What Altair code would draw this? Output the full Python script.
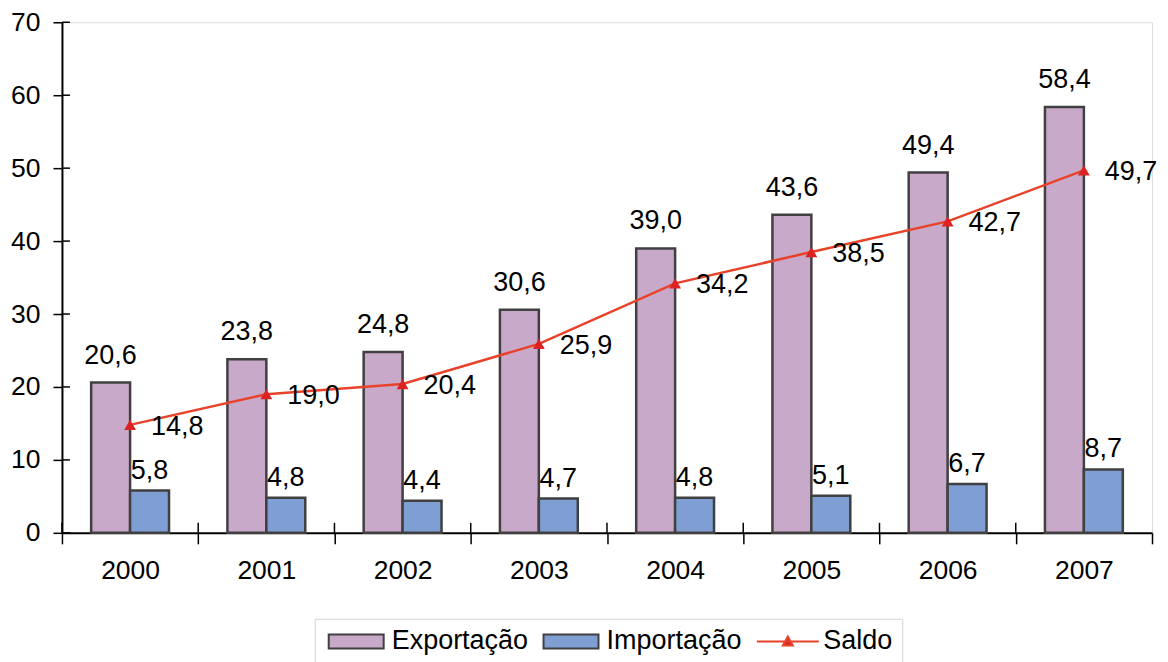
import altair as alt
import pandas as pd

years = ["2000", "2001", "2002", "2003", "2004", "2005", "2006", "2007"]
exportacao = [20.6, 23.8, 24.8, 30.6, 39.0, 43.6, 49.4, 58.4]
importacao = [5.8, 4.8, 4.4, 4.7, 4.8, 5.1, 6.7, 8.7]
saldo = [14.8, 19.0, 20.4, 25.9, 34.2, 38.5, 42.7, 49.7]
series_names = ["Exportação", "Importação", "Saldo"]
y_ticks = [0, 10, 20, 30, 40, 50, 60, 70]


def fmt(v):
    return f"{v:.1f}".replace(".", ",")


bars_df = pd.DataFrame({
    "year": years * 2,
    "series": [series_names[0]] * len(years) + [series_names[1]] * len(years),
    "value": exportacao + importacao,
})
bars_df["label"] = bars_df["value"].map(fmt)
line_df = pd.DataFrame({"year": years, "value": saldo, "label": [fmt(v) for v in saldo]})
ticks_df = pd.DataFrame({"v": y_ticks})
years_df = pd.DataFrame({"year": years})

W, H = 1091, 511
FONT = "Liberation Sans"
PINK = "#C9A9C9"
BLUE = "#7F9FD4"
RED = "#E8432A"
TRI = "#DD2222"
EDGE = "#404040"

RECT_PATH = "M-2.5,-0.64H2.5V0.64H-2.5Z"
LINE_PATH = "M-2.82,0H2.82M-0.45,0.36L0,-0.45L0.45,0.36Z"

x_scale = alt.Scale(domain=years, paddingInner=0, paddingOuter=0)
y_scale = alt.Scale(domain=[0, 70], nice=False)

x_axis = alt.Axis(title=None, tickBand="extent", labelAngle=0, domainColor="black",
                  domainWidth=2, tickColor="black", tickWidth=1.5, tickSize=11,
                  labelFont=FONT, labelFontSize=26.5, labelColor="black", labelPadding=14)
y_axis = alt.Axis(title=None, values=y_ticks, domainColor="black", domainWidth=2,
                  tickColor="black", tickWidth=1.5, tickSize=9, grid=False,
                  labelFont=FONT, labelFontSize=26.5, labelColor="black", labelPadding=13,
                  format="d")

x_enc = alt.X("year:N", scale=x_scale, axis=x_axis)
y_enc = alt.Y("value:Q", scale=y_scale, axis=y_axis)
xoff_enc = alt.XOffset("series:N", scale=alt.Scale(domain=series_names[:2], paddingInner=0, paddingOuter=0.75))

legend = alt.Legend(
    title=None, orient="none", legendX=253, legendY=597, direction="horizontal",
    symbolSize=484, symbolStrokeWidth=2, symbolOffset=19,
    labelFont=FONT, labelFontSize=27, labelColor="black",
    labelOffset=22, columnPadding=10, padding=9, strokeColor="#d4d4d4",
    symbolType={"expr": f"datum.value === 'Saldo' ? '{LINE_PATH}' : '{RECT_PATH}'"},
    symbolStrokeColor={"expr": f"datum.value === 'Saldo' ? '{RED}' : '{EDGE}'"},
)

bars = alt.Chart(bars_df).mark_bar(stroke=EDGE, strokeWidth=2.5).encode(
    x=x_enc, y=y_enc, xOffset=xoff_enc,
    color=alt.Color("series:N", scale=alt.Scale(domain=series_names, range=[PINK, BLUE, TRI]), legend=legend),
)

exp_text = alt.Chart(bars_df).transform_filter(alt.datum.series == series_names[0]).mark_text(
    baseline="alphabetic", dy=-19, font=FONT, fontSize=27, color="black"
).encode(x=x_enc, y=y_enc, xOffset=xoff_enc, text="label:N")

imp_text = alt.Chart(bars_df).transform_filter(alt.datum.series == series_names[1]).mark_text(
    baseline="alphabetic", dy=-12, font=FONT, fontSize=27, color="black"
).encode(x=x_enc, y=y_enc, xOffset=xoff_enc, text="label:N")

line = alt.Chart(line_df).mark_line(color=RED, strokeWidth=2.5).encode(x=x_enc, y=y_enc)
pts = alt.Chart(line_df).mark_point(shape="triangle-up", filled=True, color=TRI, size=140, opacity=1).encode(
    x=x_enc, y=y_enc)
line_text = alt.Chart(line_df).mark_text(
    align="left", baseline="middle", dx=21, dy=2, font=FONT, fontSize=27, color="black"
).encode(x=x_enc, y=y_enc, text="label:N")

inner_y_ticks = alt.Chart(ticks_df).mark_rule(color="black", strokeWidth=1.5).encode(
    y=alt.Y("v:Q", scale=y_scale, axis=y_axis), x=alt.value(0), x2=alt.value(8))
inner_x_ticks = alt.Chart(years_df).mark_rule(color="black", strokeWidth=1.5).encode(
    x=alt.X("year:N", scale=x_scale, axis=x_axis, bandPosition=0), y=alt.value(H - 10), y2=alt.value(H))

chart = alt.layer(
    bars, exp_text, imp_text, line, pts, line_text, inner_y_ticks, inner_x_ticks
).properties(
    width=W, height=H,
    autosize=alt.AutoSizeParams(type="none"),
    padding={"left": 54, "top": 14, "right": 8, "bottom": 140},
).configure_view(stroke="#8c8c8c", strokeWidth=2).configure(background="white")

chart.save("out.html", embed_options={"renderer": "svg", "actions": False})
